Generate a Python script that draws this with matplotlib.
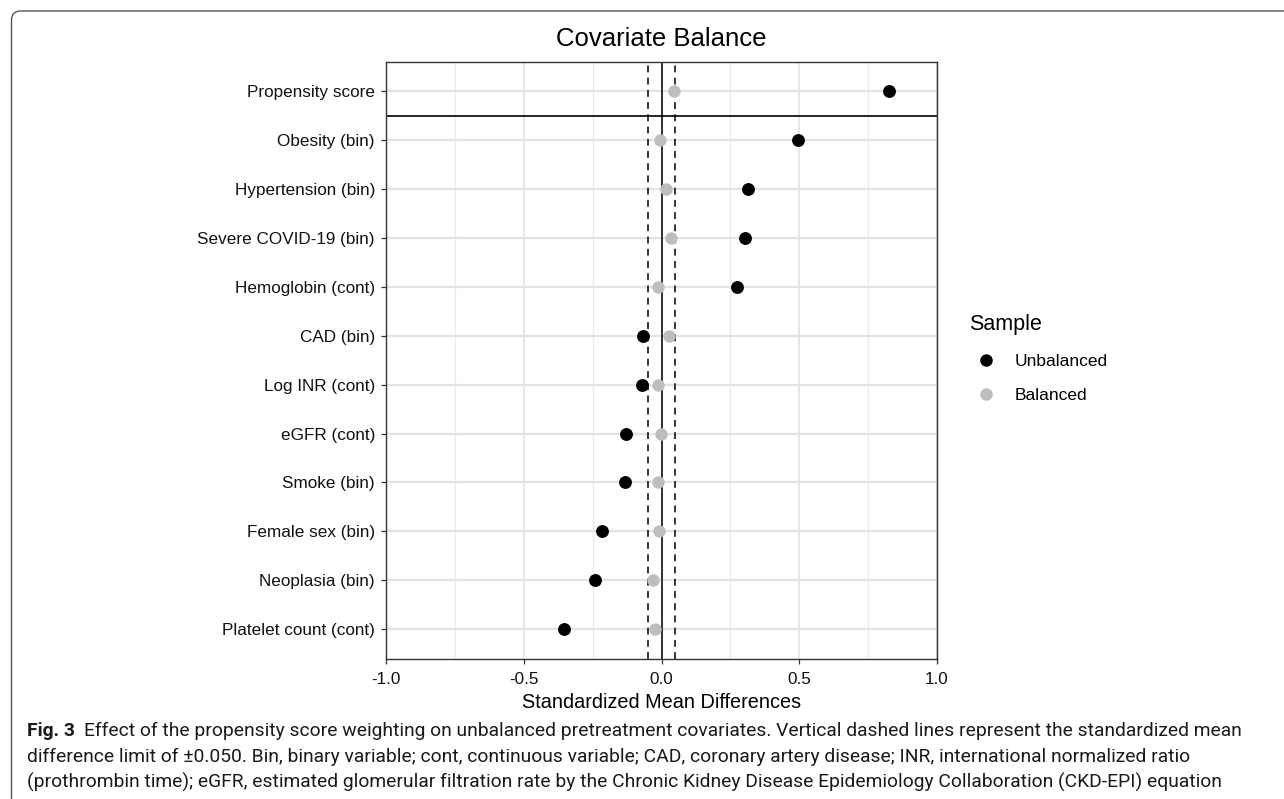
import matplotlib
matplotlib.use("Agg")
import matplotlib.pyplot as plt
from matplotlib.lines import Line2D
from matplotlib.patches import FancyBboxPatch
from matplotlib.transforms import IdentityTransform
import numpy as np

# covariates, top to bottom
covariates = ["Propensity score", "Obesity (bin)", "Hypertension (bin)",
              "Severe COVID-19 (bin)", "Hemoglobin (cont)", "CAD (bin)",
              "Log INR (cont)", "eGFR (cont)", "Smoke (bin)",
              "Female sex (bin)", "Neoplasia (bin)", "Platelet count (cont)"]
smd_unbalanced = [0.825, 0.494, 0.313, 0.304, 0.273, -0.066,
                  -0.071, -0.129, -0.132, -0.215, -0.241, -0.353]
smd_balanced = [0.044, -0.006, 0.017, 0.035, -0.012, 0.026,
                -0.014, -0.001, -0.014, -0.009, -0.031, -0.022]
smd_limit = 0.05
x_major = [-1.0, -0.5, 0.0, 0.5, 1.0]
x_minor = [-0.75, -0.25, 0.25, 0.75]
sample_labels = ["Unbalanced", "Balanced"]
sample_colors = ["black", "#BEBEBE"]

caption_lines = [
    "Effect of the propensity score weighting on unbalanced pretreatment covariates. "
    "Vertical dashed lines represent the standardized mean",
    "difference limit of \u00b10.050. Bin, binary variable; cont, continuous variable; "
    "CAD, coronary artery disease; INR, international normalized ratio",
    "(prothrombin time); eGFR, estimated glomerular filtration rate by the Chronic "
    "Kidney Disease Epidemiology Collaboration (CKD-EPI) equation",
]

W, H = 1284, 799
plt.rcParams["font.family"] = ["Liberation Sans", "DejaVu Sans"]
fig = plt.figure(figsize=(W / 100, H / 100), dpi=100)
ax = fig.add_axes([386 / W, 1 - 658.5 / H, (937 - 386) / W, (658.5 - 62) / H])

n = len(covariates)
ypos = np.arange(n, 0, -1)

# grid
for x in x_minor:
    ax.axvline(x, color="#EBEBEB", lw=1.0, zorder=0)
for x in x_major:
    ax.axvline(x, color="#E6E6E6", lw=1.4, zorder=0)
for y in ypos:
    ax.axhline(y, color="#E3E3E3", lw=1.6, zorder=0)

# reference lines
ax.axvline(0, color="black", lw=1.1, zorder=1)
for x in (-smd_limit, smd_limit):
    ax.axvline(x, color="black", lw=1.1, ls=(0, (4.5, 3.5)), zorder=1)
ax.axhline(n - 0.5, color="black", lw=1.2, zorder=1)

ax.scatter(smd_unbalanced, ypos, s=86, color=sample_colors[0], lw=0, zorder=3)
ax.scatter(smd_balanced, ypos, s=80, color=sample_colors[1], lw=0, zorder=3)

ax.set_xlim(-1, 1)
ax.set_ylim(0.4, n + 0.6)
ax.set_xticks(x_major)
ax.set_xticklabels([f"{v:.1f}" for v in x_major])
ax.set_yticks(ypos)
ax.set_yticklabels(covariates)
ax.tick_params(axis="both", length=3.5, width=0.9, color="#333333",
               labelsize=12.3, labelcolor="#111111")
ax.tick_params(axis="x", pad=6)
ax.tick_params(axis="y", pad=4.5)
for s in ax.spines.values():
    s.set_color("#333333")
    s.set_linewidth(1.0)

ax.set_xlabel("Standardized Mean Differences", fontsize=14.3, labelpad=4.5)
ax.set_title("Covariate Balance", fontsize=18.5, pad=11.5)

handles = [Line2D([], [], ls="", marker="o", ms=9, mec="none", mfc=c)
           for c in sample_colors]
leg = ax.legend(handles, sample_labels, title="Sample", loc="upper left",
                bbox_to_anchor=(960 / W, 1 - 305 / H),
                bbox_transform=fig.transFigure, frameon=False, fontsize=12.5,
                title_fontsize=15.5, borderpad=0, handlelength=2.0,
                handletextpad=0.65, labelspacing=1.1, alignment="left")

# panel frame around the figure (only top and left visible)
frame = FancyBboxPatch((11.5, -30), 1320, H - 11 + 30,
                       boxstyle="round,pad=0,rounding_size=9",
                       transform=IdentityTransform(), fill=False,
                       ec="#555555", lw=1.0)
fig.patches.append(frame)

# caption, fitted to the width of the first line
cap_font = ["Roboto", "DejaVu Sans"]
renderer = fig.canvas.get_renderer()
x0, gap, target = 27, 9, 1236 - 27
probe_b = fig.text(0, 0, "Fig. 3", fontsize=12, weight="bold", family=cap_font)
probe_r = fig.text(0, 0, caption_lines[0], fontsize=12, family=cap_font)
w12 = (probe_b.get_window_extent(renderer).width
       + probe_r.get_window_extent(renderer).width)
probe_b.remove()
probe_r.remove()
fs = 12 * (target - gap) / w12

baselines = [736, 762, 788]
tb = fig.text(x0 / W, 1 - baselines[0] / H, "Fig. 3", fontsize=fs,
              weight="bold", family=cap_font, va="baseline", color="#1A1A1A")
wb = tb.get_window_extent(renderer).width
fig.text((x0 + wb + gap) / W, 1 - baselines[0] / H, caption_lines[0],
         fontsize=fs, family=cap_font, va="baseline", color="#1A1A1A")
for line, yb in zip(caption_lines[1:], baselines[1:]):
    fig.text(x0 / W, 1 - yb / H, line, fontsize=fs, family=cap_font,
             va="baseline", color="#1A1A1A")

fig.savefig("out.png", dpi=100)
